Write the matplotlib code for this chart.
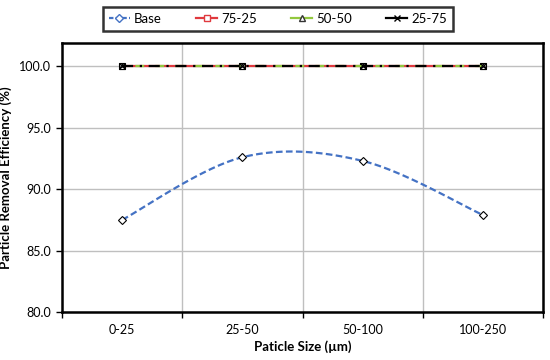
import matplotlib
matplotlib.use('Agg')
import matplotlib.pyplot as plt
from matplotlib.lines import Line2D
import numpy as np

plt.rcParams['font.family'] = ['Lato', 'DejaVu Sans']

# Data
categories = ['0-25', '25-50', '50-100', '100-250']
base = [87.5, 92.6, 92.3, 87.9]
mix_75_25 = [100.0, 100.0, 100.0, 100.0]
mix_50_50 = [100.0, 100.0, 100.0, 100.0]
mix_25_75 = [100.0, 100.0, 100.0, 100.0]


def smooth(xs, ys, n=30):
    # Catmull-Rom spline, similar to Excel's smoothed line
    xs = np.asarray(xs, float)
    ys = np.asarray(ys, float)
    px = np.concatenate([[xs[0]], xs, [xs[-1]]])
    py = np.concatenate([[ys[0]], ys, [ys[-1]]])
    ox, oy = [], []
    for i in range(1, len(px) - 2):
        t = np.linspace(0, 1, n)
        for p, out in ((px, ox), (py, oy)):
            p0, p1, p2, p3 = p[i - 1], p[i], p[i + 1], p[i + 2]
            out.extend(0.5 * (2 * p1 + (-p0 + p2) * t
                              + (2 * p0 - 5 * p1 + 4 * p2 - p3) * t ** 2
                              + (-p0 + 3 * p1 - 3 * p2 + p3) * t ** 3))
    return np.array(ox), np.array(oy)


x = np.arange(len(categories))
blue, red, green = '#4472C4', '#E0393E', '#92C83E'

fig = plt.figure(figsize=(5.5, 3.6), dpi=100)
ax = fig.add_axes([62 / 550, 48 / 360, 481 / 550, 269 / 360])

sx, sy = smooth(x, base)
ax.plot(sx, sy, color=blue, ls=(0, (3, 1.5)), lw=1.6, zorder=3)
ax.plot(x, base, ls='none', marker='D', ms=4.5, mfc='white', mec='black', mew=0.8, zorder=4)

ax.plot(x, mix_75_25, color=red, ls='-', lw=1.6, marker='s', ms=5,
        mfc='white', mec='black', mew=0.8, zorder=3)
ax.plot(x, mix_50_50, color=green, ls=(3, (4, 5)), lw=1.6, marker='^', ms=5,
        mfc='white', mec='black', mew=0.8, zorder=3)
ax.plot(x, mix_25_75, color='black', ls=(0, (5, 3, 1, 3)), lw=1.6, marker='x', ms=5,
        mec='black', mew=0.9, zorder=3)

ax.set_xlim(-0.5, len(categories) - 0.5)
ax.set_ylim(80, 101.9)
ax.set_yticks(np.arange(80, 101, 5))
ax.set_yticklabels([f'{v:.1f}' for v in np.arange(80, 101, 5)], fontsize=9)
ax.set_xticks(x)
ax.set_xticklabels(categories, fontsize=9)
ax.tick_params(axis='x', length=0, pad=9)
ax.set_xticks(np.arange(-0.5, len(categories), 1), minor=True)
ax.tick_params(axis='x', which='minor', length=4, width=1, direction='out')
ax.tick_params(axis='y', length=4, width=1, direction='out', pad=4)
ax.grid(axis='y', color='#BFBFBF', lw=1)
ax.grid(axis='x', which='minor', color='#BFBFBF', lw=1)
ax.grid(axis='x', which='major', visible=False)
ax.set_axisbelow(True)
for s in ax.spines.values():
    s.set_linewidth(1.8)
    s.set_color('black')

ax.set_xlabel('Paticle Size (µm)', fontsize=9.5, fontweight='bold', labelpad=3)
ax.set_ylabel('Particle Removal Efficiency (%)', fontsize=9.5, fontweight='bold', labelpad=5)

handles = [
    Line2D([], [], color=blue, ls=(0, (2, 1)), lw=1.6, marker='D', ms=4.5, mfc='white', mec=blue),
    Line2D([], [], color=red, ls='-', lw=1.6, marker='s', ms=5, mfc='white', mec=red),
    Line2D([], [], color=green, ls='-', lw=1.6, marker='^', ms=5, mfc='white', mec='#333333'),
    Line2D([], [], color='black', ls='-', lw=1.6, marker='x', ms=5, mec='black'),
]
leg = fig.legend(handles, ['Base', '75-25', '50-50', '25-75'], loc='center',
                 bbox_to_anchor=(278 / 550, 1 - 19 / 360), ncol=4,
                 fontsize=9.5, frameon=True, fancybox=False, edgecolor='black',
                 handlelength=1.6, columnspacing=2.6, borderpad=0.45, handletextpad=0.3)
leg.get_frame().set_linewidth(1.8)

fig.savefig('out.png', dpi=100)
